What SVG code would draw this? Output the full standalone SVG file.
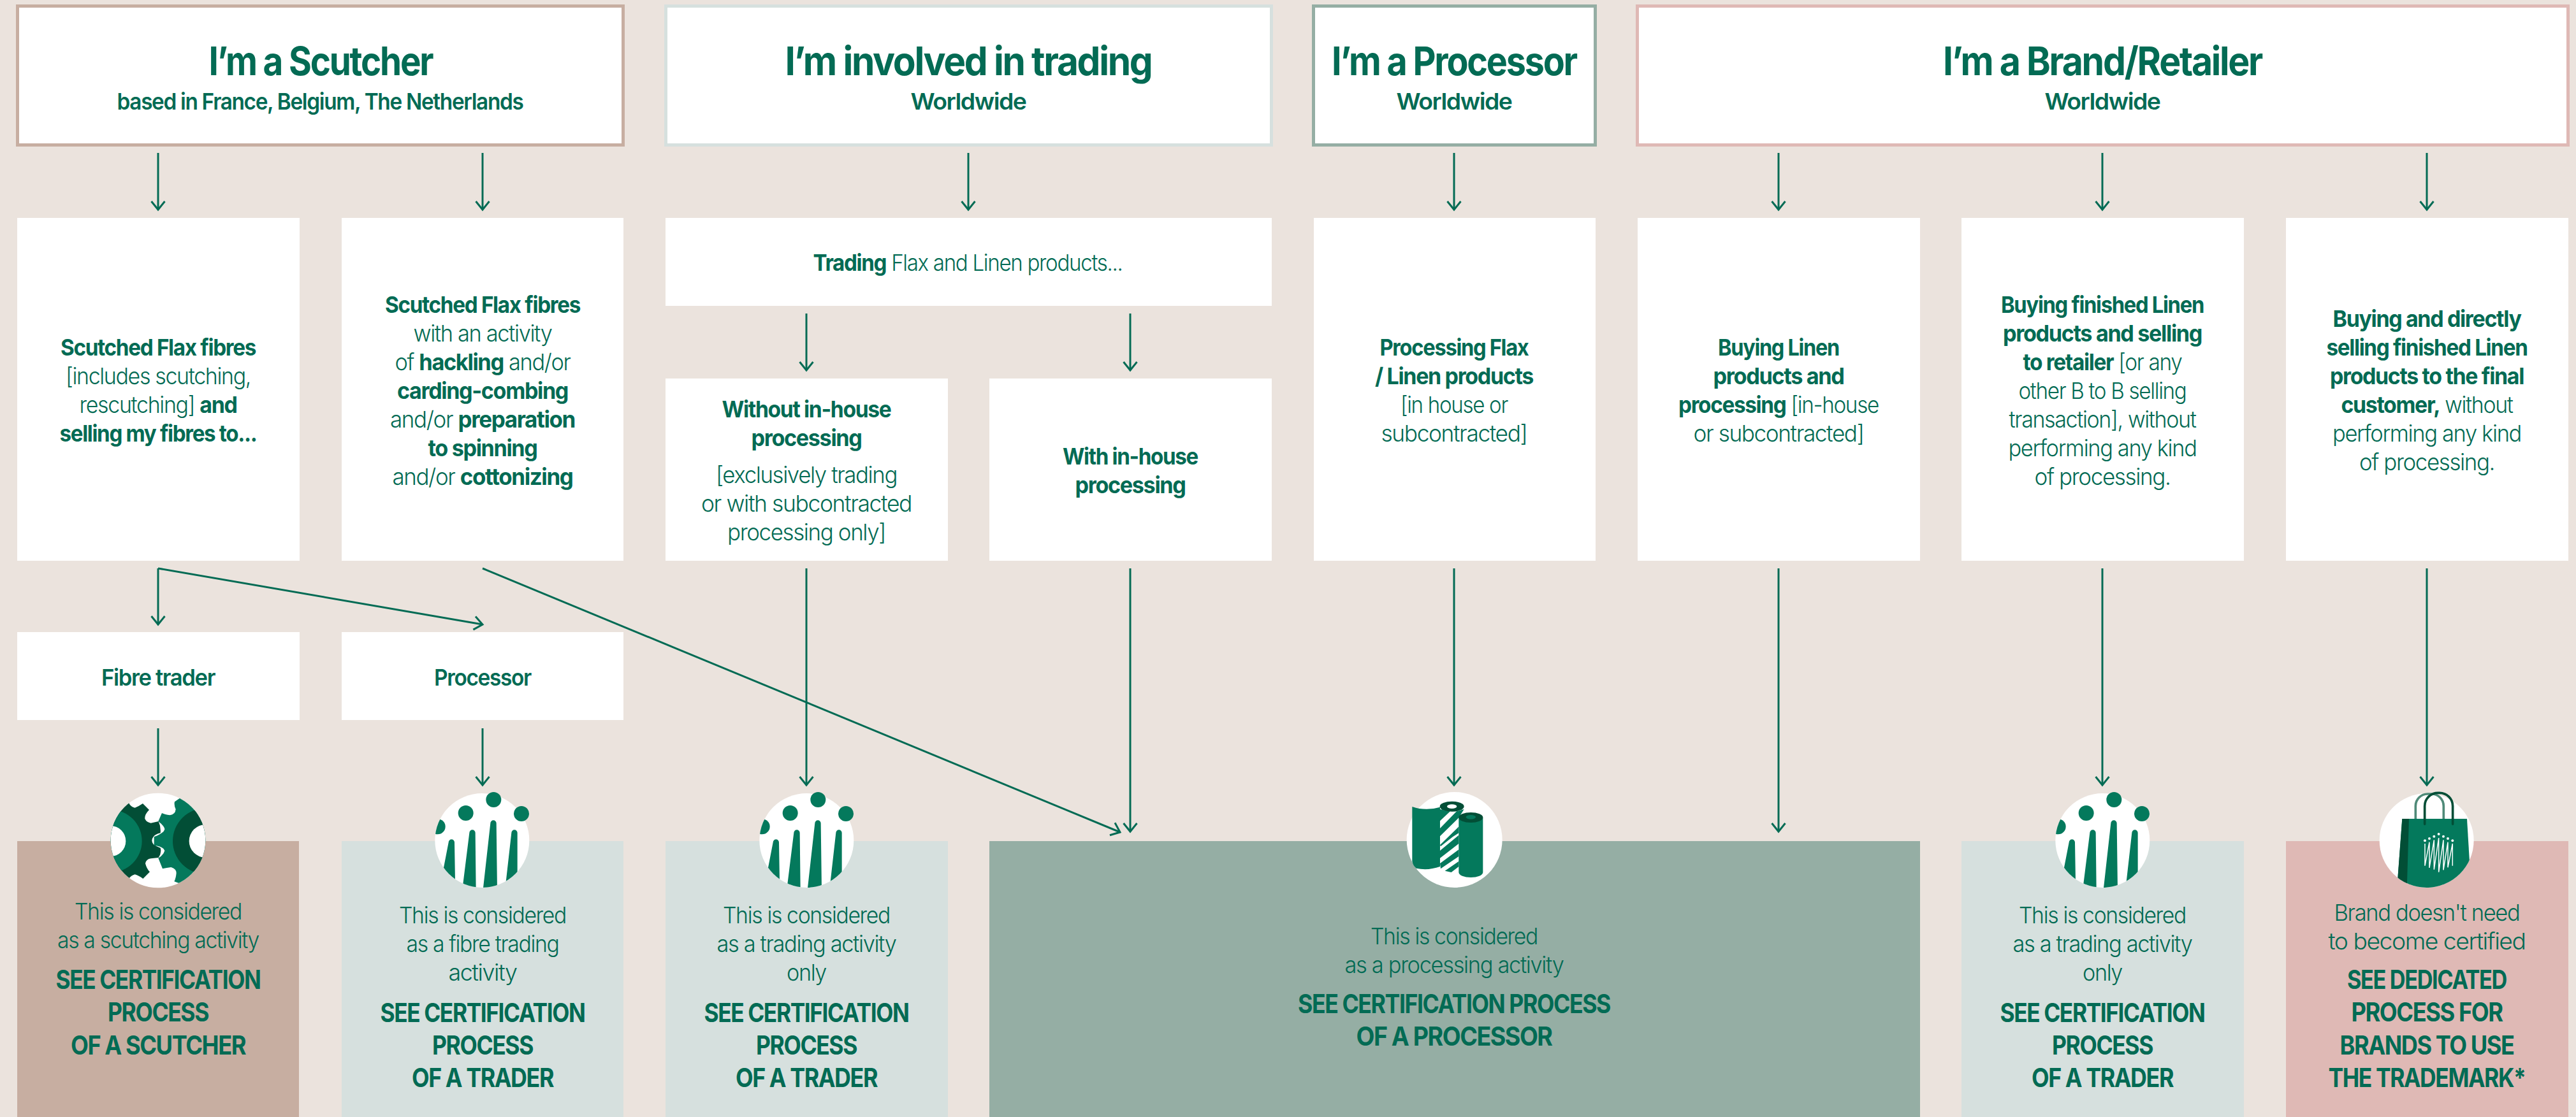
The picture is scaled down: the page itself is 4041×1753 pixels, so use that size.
<svg xmlns="http://www.w3.org/2000/svg" width="4041" height="1753" viewBox="0 0 4041 1753">
<style>
text{font-family:Inter,"Noto Sans","Liberation Sans",sans-serif;fill:#036b54;text-anchor:middle;letter-spacing:-.04em}
.t{font-size:62px;font-weight:700}
.s{font-size:36px;font-weight:600}
.b{font-size:36px;font-weight:700}
.l{font-size:36px;font-weight:300}
.c{font-size:41px;font-weight:700}
tspan.w{font-weight:700}
tspan.n{font-weight:300}
.box{fill:#fff}
.hd{fill:#fff;stroke-width:5}
.arrow{fill:none;stroke:#036b54;stroke-width:3;marker-end:url(#head)}
.g{fill:#04795c}
.d{fill:#024e36}
</style>
<defs>
<marker id="head" markerUnits="userSpaceOnUse" markerWidth="40" markerHeight="40" viewBox="-20 -20 40 40" refX="0" refY="0" orient="auto">
<path d="M-13,-10.5 L0,0 L-13,10.5" fill="none" stroke="#036b54" stroke-width="3"/>
</marker>
<clipPath id="cg"><circle cx="354" cy="297" r="223"/></clipPath>
<clipPath id="cp"><circle cx="349" cy="297" r="222"/></clipPath>
<clipPath id="cb"><circle cx="380" cy="297" r="222"/></clipPath>
<g id="icon-gear">
<circle cx="354" cy="297" r="223" fill="#fff"/>
<g clip-path="url(#cg)">
<path class="d" d="M130,60 L215,118 Q225,140 245,143 Q265,135 282,123 L312,153 Q290,175 292,195 Q300,212 320,215 L356,207 Q368,232 365,262 Q340,268 332,280 Q318,297 332,315 Q345,325 365,332 Q372,355 356,378 L320,382 Q298,385 294,405 Q300,430 315,445 L283,477 Q262,462 245,457 Q228,462 218,475 L130,540 L60,300 Z"/>
<circle class="g" cx="130" cy="300" r="148"/>
<circle cx="130" cy="300" r="72" fill="#fff"/>
<path class="g" d="M460,95 L432,115 Q428,130 437,150 Q435,175 410,178 Q385,175 372,168 L355,207 Q385,230 385,245 Q378,265 335,280 L335,320 Q378,325 385,345 Q380,365 355,380 L375,430 Q395,425 415,423 Q440,430 440,450 Q438,475 430,490 L450,497 L650,500 V90 Z"/>
<circle class="d" cx="578" cy="300" r="155"/>
<circle cx="578" cy="300" r="78" fill="#fff"/>
</g>
</g>
<g id="icon-people">
<circle cx="349" cy="297" r="222" fill="#fff"/>
<g clip-path="url(#cp)">
<circle class="g" cx="140" cy="232" r="36"/>
<path class="g" d="M191,306 A14,14 0 0 1 219,306 L222,490 L165,440 Z"/>
<path class="g" d="M289,261 A14,14 0 0 1 317,261 L320,530 L258,510 Z"/>
<path class="g" d="M388,216 A14,14 0 0 1 416,216 L420,530 L353,530 Z"/>
<path class="g" d="M487,261 A14,14 0 0 1 515,261 V500 L460,500 Z"/>
</g>
<circle class="g" cx="272" cy="168" r="36"/>
<circle class="g" cx="403" cy="105" r="36"/>
<circle class="g" cx="534" cy="171" r="36"/>
</g>
<g id="icon-rolls">
<circle cx="365" cy="294" r="225" fill="#fff"/>
<path class="g" d="M166,138 Q230,160 297,140 V420 Q240,440 185,428 Q170,415 166,395 Z"/>
<path class="g" d="M297,150 L345,160 L297,205 Z M297,240 L375,160 L410,150 L385,190 L297,277 Z M385,232 L385,262 L357,280 L300,325 L297,318 Z M297,345 L385,272 L385,312 L297,380 Z M297,405 L385,340 L385,372 L300,430 Z M320,440 L385,395 L385,420 L350,447 Z"/>
<ellipse class="d" cx="353" cy="137" rx="57" ry="24"/>
<ellipse cx="353" cy="137" rx="23" ry="10" fill="#fff"/>
<path class="g" d="M385,189 H499 V447 A57,24 0 0 1 385,447 Z"/>
<ellipse class="d" cx="442" cy="189" rx="57" ry="24"/>
<ellipse class="g" cx="442" cy="187" rx="23" ry="10"/>
</g>
<g id="icon-bag">
<circle cx="380" cy="297" r="222" fill="#fff"/>
<path d="M328,195 V135 A57,57 0 0 1 385,78 H403 A57,57 0 0 1 460,135 V195" fill="none" stroke="#4f8a78" stroke-width="11"/>
<g clip-path="url(#cb)">
<path class="g" d="M265,195 H570 L590,530 H240 Z"/>
<path class="d" d="M265,195 H297 L287,530 H240 Z"/>
</g>
<path d="M371,220 V135 A62,62 0 0 1 433,73 H441 A62,62 0 0 1 503,135 V220" fill="none" stroke="#024e36" stroke-width="11" stroke-linecap="round"/>
<g fill="#fff">
<circle cx="372" cy="298" r="6"/><circle cx="393" cy="288" r="6"/><circle cx="415" cy="278" r="6"/><circle cx="437" cy="267" r="6"/><circle cx="459" cy="278" r="6"/><circle cx="480" cy="288" r="6"/><circle cx="502" cy="298" r="6"/>
</g>
<path d="M372,312 V416 L393,305 V426 L415,295 V434 L437,285 V446 L459,295 V436 L480,305 V424 L502,312 V416" fill="none" stroke="#fff" stroke-width="4.5"/>
</g>
</defs>
<rect width="4041" height="1753" fill="#ebe3dd"/>

<g id="head-scutcher">
<rect class="hd" x="27.5" y="9.5" width="950" height="218" stroke="#c7aea1"/>
<text class="t" x="503" y="118" textLength="351" lengthAdjust="spacingAndGlyphs">I’m a Scutcher</text>
<text class="s" x="502" y="172" textLength="637" lengthAdjust="spacingAndGlyphs">based in France, Belgium, The Netherlands</text>
</g>
<g id="head-trading">
<rect class="hd" x="1044.5" y="9.5" width="950" height="218" stroke="#d6e0de"/>
<text class="t" x="1519" y="118" textLength="575" lengthAdjust="spacingAndGlyphs">I’m involved in trading</text>
<text class="s" x="1519" y="172" textLength="181" lengthAdjust="spacingAndGlyphs">Worldwide</text>
</g>
<g id="head-processor">
<rect class="hd" x="2060.5" y="9.5" width="442" height="218" stroke="#95aea4"/>
<text class="t" x="2281" y="118" textLength="384" lengthAdjust="spacingAndGlyphs">I’m a Processor</text>
<text class="s" x="2281" y="172" textLength="181" lengthAdjust="spacingAndGlyphs">Worldwide</text>
</g>
<g id="head-brand">
<rect class="hd" x="2568.5" y="9.5" width="1460" height="218" stroke="#dfb9b5"/>
<text class="t" x="3298" y="118" textLength="500" lengthAdjust="spacingAndGlyphs">I’m a Brand/Retailer</text>
<text class="s" x="3298" y="172" textLength="181" lengthAdjust="spacingAndGlyphs">Worldwide</text>
</g>

<g id="card-scutched">
<rect class="box" x="27" y="342" width="443" height="538"/>
<text class="b" x="248" y="558" textLength="306" lengthAdjust="spacingAndGlyphs">Scutched Flax fibres</text>
<text class="l" x="248" y="603" textLength="290" lengthAdjust="spacingAndGlyphs">[includes scutching,</text>
<text class="l" x="248" y="648" textLength="247" lengthAdjust="spacingAndGlyphs">rescutching] <tspan class="w">and</tspan></text>
<text class="b" x="248" y="693" textLength="309" lengthAdjust="spacingAndGlyphs">selling my fibres to...</text>
</g>
<g id="card-activity">
<rect class="box" x="536" y="342" width="442" height="538"/>
<text class="b" x="757" y="491" textLength="306" lengthAdjust="spacingAndGlyphs">Scutched Flax fibres</text>
<text class="l" x="757" y="536" textLength="217" lengthAdjust="spacingAndGlyphs">with an activity</text>
<text class="l" x="757" y="581" textLength="275" lengthAdjust="spacingAndGlyphs">of <tspan class="w">hackling</tspan> and/or</text>
<text class="b" x="757" y="626" textLength="268" lengthAdjust="spacingAndGlyphs">carding-combing</text>
<text class="l" x="757" y="671" textLength="290" lengthAdjust="spacingAndGlyphs">and/or <tspan class="w">preparation</tspan></text>
<text class="b" x="757" y="716" textLength="171" lengthAdjust="spacingAndGlyphs">to spinning</text>
<text class="l" x="757" y="761" textLength="283" lengthAdjust="spacingAndGlyphs">and/or <tspan class="w">cottonizing</tspan></text>
</g>
<g id="card-trading">
<rect class="box" x="1044" y="342" width="951" height="138"/>
<text class="l" x="1518" y="425" textLength="485" lengthAdjust="spacingAndGlyphs"><tspan class="w">Trading</tspan> Flax and Linen products...</text>
</g>
<g id="card-without">
<rect class="box" x="1044" y="594" width="443" height="286"/>
<text class="b" x="1265" y="655" textLength="265" lengthAdjust="spacingAndGlyphs">Without in-house</text>
<text class="b" x="1265" y="700" textLength="173" lengthAdjust="spacingAndGlyphs">processing</text>
<text class="l" x="1265" y="758" textLength="284" lengthAdjust="spacingAndGlyphs">[exclusively trading</text>
<text class="l" x="1265" y="803" textLength="330" lengthAdjust="spacingAndGlyphs">or with subcontracted</text>
<text class="l" x="1265" y="848" textLength="248" lengthAdjust="spacingAndGlyphs">processing only]</text>
</g>
<g id="card-with">
<rect class="box" x="1552" y="594" width="443" height="286"/>
<text class="b" x="1773" y="729" textLength="212" lengthAdjust="spacingAndGlyphs">With in-house</text>
<text class="b" x="1773" y="774" textLength="173" lengthAdjust="spacingAndGlyphs">processing</text>
</g>
<g id="card-processing">
<rect class="box" x="2061" y="342" width="442" height="538"/>
<text class="b" x="2281" y="558" textLength="233" lengthAdjust="spacingAndGlyphs">Processing Flax</text>
<text class="b" x="2281" y="603" textLength="248" lengthAdjust="spacingAndGlyphs">/ Linen products</text>
<text class="l" x="2281" y="648" textLength="168" lengthAdjust="spacingAndGlyphs">[in house or</text>
<text class="l" x="2281" y="693" textLength="229" lengthAdjust="spacingAndGlyphs">subcontracted]</text>
</g>
<g id="card-buying">
<rect class="box" x="2569" y="342" width="443" height="538"/>
<text class="b" x="2790" y="558" textLength="190" lengthAdjust="spacingAndGlyphs">Buying Linen</text>
<text class="b" x="2790" y="603" textLength="205" lengthAdjust="spacingAndGlyphs">products and</text>
<text class="l" x="2790" y="648" textLength="314" lengthAdjust="spacingAndGlyphs"><tspan class="w">processing</tspan> [in-house</text>
<text class="l" x="2790" y="693" textLength="267" lengthAdjust="spacingAndGlyphs">or subcontracted]</text>
</g>
<g id="card-finished">
<rect class="box" x="3077" y="342" width="443" height="538"/>
<text class="b" x="3298" y="491" textLength="318" lengthAdjust="spacingAndGlyphs">Buying finished Linen</text>
<text class="b" x="3298" y="536" textLength="312" lengthAdjust="spacingAndGlyphs">products and selling</text>
<text class="l" x="3298" y="581" textLength="249" lengthAdjust="spacingAndGlyphs"><tspan class="w">to retailer</tspan> [or any</text>
<text class="l" x="3298" y="626" textLength="263" lengthAdjust="spacingAndGlyphs">other B to B selling</text>
<text class="l" x="3298" y="671" textLength="293" lengthAdjust="spacingAndGlyphs">transaction], without</text>
<text class="l" x="3298" y="716" textLength="295" lengthAdjust="spacingAndGlyphs">performing any kind</text>
<text class="l" x="3298" y="761" textLength="213" lengthAdjust="spacingAndGlyphs">of processing.</text>
</g>
<g id="card-direct">
<rect class="box" x="3586" y="342" width="443" height="538"/>
<text class="b" x="3807" y="513" textLength="295" lengthAdjust="spacingAndGlyphs">Buying and directly</text>
<text class="b" x="3807" y="558" textLength="315" lengthAdjust="spacingAndGlyphs">selling finished Linen</text>
<text class="b" x="3807" y="603" textLength="304" lengthAdjust="spacingAndGlyphs">products to the final</text>
<text class="l" x="3807" y="648" textLength="269" lengthAdjust="spacingAndGlyphs"><tspan class="w">customer,</tspan> without</text>
<text class="l" x="3807" y="693" textLength="296" lengthAdjust="spacingAndGlyphs">performing any kind</text>
<text class="l" x="3807" y="738" textLength="212" lengthAdjust="spacingAndGlyphs">of processing.</text>
</g>
<g id="card-fibre-trader">
<rect class="box" x="27" y="992" width="443" height="138"/>
<text class="s" x="248" y="1076" textLength="178" lengthAdjust="spacingAndGlyphs">Fibre trader</text>
</g>
<g id="card-processor">
<rect class="box" x="536" y="992" width="442" height="138"/>
<text class="s" x="757" y="1076" textLength="152" lengthAdjust="spacingAndGlyphs">Processor</text>
</g>

<g id="connectors">
<path class="arrow" d="M248,240V329"/><path class="arrow" d="M757,240V329"/><path class="arrow" d="M1519,240V329"/><path class="arrow" d="M2281,240V329"/><path class="arrow" d="M2790,240V329"/><path class="arrow" d="M3298,240V329"/><path class="arrow" d="M3807,240V329"/>
<path class="arrow" d="M1265,492V581"/><path class="arrow" d="M1773,492V581"/>
<path class="arrow" d="M248,892V980"/><path class="arrow" d="M248,892L757,980"/>
<path class="arrow" d="M757,892L1757,1306"/>
<path class="arrow" d="M1265,892V1232"/><path class="arrow" d="M1773,892V1305"/><path class="arrow" d="M2281,892V1232"/><path class="arrow" d="M2790,892V1305"/><path class="arrow" d="M3298,892V1232"/><path class="arrow" d="M3807,892V1232"/>
<path class="arrow" d="M248,1143V1232"/><path class="arrow" d="M757,1143V1232"/>
</g>

<g id="result-scutcher">
<rect x="27" y="1320" width="442" height="433" fill="#c7aea1"/>
<use href="#icon-gear" transform="translate(130,1220) scale(.3333)"/>
<text class="l" x="248" y="1443" textLength="262" lengthAdjust="spacingAndGlyphs">This is considered</text>
<text class="l" x="248" y="1488" textLength="316" lengthAdjust="spacingAndGlyphs">as a scutching activity</text>
<text class="c" x="248" y="1552" textLength="321" lengthAdjust="spacingAndGlyphs">SEE CERTIFICATION</text>
<text class="c" x="248" y="1603" textLength="158" lengthAdjust="spacingAndGlyphs">PROCESS</text>
<text class="c" x="248" y="1655" textLength="274" lengthAdjust="spacingAndGlyphs">OF A SCUTCHER</text>
</g>
<g id="result-fibre-trading">
<rect x="536" y="1320" width="442" height="433" fill="#d6e0de"/>
<use href="#icon-people" transform="translate(640,1220) scale(.3333)"/>
<text class="l" x="757" y="1449" textLength="262" lengthAdjust="spacingAndGlyphs">This is considered</text>
<text class="l" x="757" y="1494" textLength="239" lengthAdjust="spacingAndGlyphs">as a fibre trading</text>
<text class="l" x="757" y="1539" textLength="107" lengthAdjust="spacingAndGlyphs">activity</text>
<text class="c" x="757" y="1604" textLength="321" lengthAdjust="spacingAndGlyphs">SEE CERTIFICATION</text>
<text class="c" x="757" y="1655" textLength="158" lengthAdjust="spacingAndGlyphs">PROCESS</text>
<text class="c" x="757" y="1706" textLength="222" lengthAdjust="spacingAndGlyphs">OF A TRADER</text>
</g>
<g id="result-trading">
<rect x="1044" y="1320" width="443" height="433" fill="#d6e0de"/>
<use href="#icon-people" transform="translate(1149,1220) scale(.3333)"/>
<text class="l" x="1265" y="1449" textLength="262" lengthAdjust="spacingAndGlyphs">This is considered</text>
<text class="l" x="1265" y="1494" textLength="281" lengthAdjust="spacingAndGlyphs">as a trading activity</text>
<text class="l" x="1265" y="1539" textLength="62" lengthAdjust="spacingAndGlyphs">only</text>
<text class="c" x="1265" y="1604" textLength="321" lengthAdjust="spacingAndGlyphs">SEE CERTIFICATION</text>
<text class="c" x="1265" y="1655" textLength="158" lengthAdjust="spacingAndGlyphs">PROCESS</text>
<text class="c" x="1265" y="1706" textLength="222" lengthAdjust="spacingAndGlyphs">OF A TRADER</text>
</g>
<g id="result-processing">
<rect x="1552" y="1320" width="1460" height="433" fill="#95aea4"/>
<use href="#icon-rolls" transform="translate(2160,1220) scale(.3333)"/>
<text class="l" x="2281" y="1482" textLength="262" lengthAdjust="spacingAndGlyphs">This is considered</text>
<text class="l" x="2281" y="1527" textLength="343" lengthAdjust="spacingAndGlyphs">as a processing activity</text>
<text class="c" x="2281" y="1590" textLength="490" lengthAdjust="spacingAndGlyphs">SEE CERTIFICATION PROCESS</text>
<text class="c" x="2281" y="1641" textLength="307" lengthAdjust="spacingAndGlyphs">OF A PROCESSOR</text>
</g>
<g id="result-trading-2">
<rect x="3077" y="1320" width="443" height="433" fill="#d6e0de"/>
<use href="#icon-people" transform="translate(3182,1220) scale(.3333)"/>
<text class="l" x="3298" y="1449" textLength="262" lengthAdjust="spacingAndGlyphs">This is considered</text>
<text class="l" x="3298" y="1494" textLength="281" lengthAdjust="spacingAndGlyphs">as a trading activity</text>
<text class="l" x="3298" y="1539" textLength="62" lengthAdjust="spacingAndGlyphs">only</text>
<text class="c" x="3298" y="1604" textLength="321" lengthAdjust="spacingAndGlyphs">SEE CERTIFICATION</text>
<text class="c" x="3298" y="1655" textLength="158" lengthAdjust="spacingAndGlyphs">PROCESS</text>
<text class="c" x="3298" y="1706" textLength="222" lengthAdjust="spacingAndGlyphs">OF A TRADER</text>
</g>
<g id="result-brand">
<rect x="3586" y="1320" width="443" height="433" fill="#dfb9b5"/>
<use href="#icon-bag" transform="translate(3680,1220) scale(.3333)"/>
<text class="l" x="3807" y="1445" textLength="291" lengthAdjust="spacingAndGlyphs">Brand doesn't need</text>
<text class="l" x="3807" y="1490" textLength="309" lengthAdjust="spacingAndGlyphs">to become certified</text>
<text class="c" x="3807" y="1552" textLength="250" lengthAdjust="spacingAndGlyphs">SEE DEDICATED</text>
<text class="c" x="3807" y="1603" textLength="237" lengthAdjust="spacingAndGlyphs">PROCESS FOR</text>
<text class="c" x="3807" y="1655" textLength="273" lengthAdjust="spacingAndGlyphs">BRANDS TO USE</text>
<text class="c" x="3807" y="1706" textLength="309" lengthAdjust="spacingAndGlyphs">THE TRADEMARK*</text>
</g>
</svg>
